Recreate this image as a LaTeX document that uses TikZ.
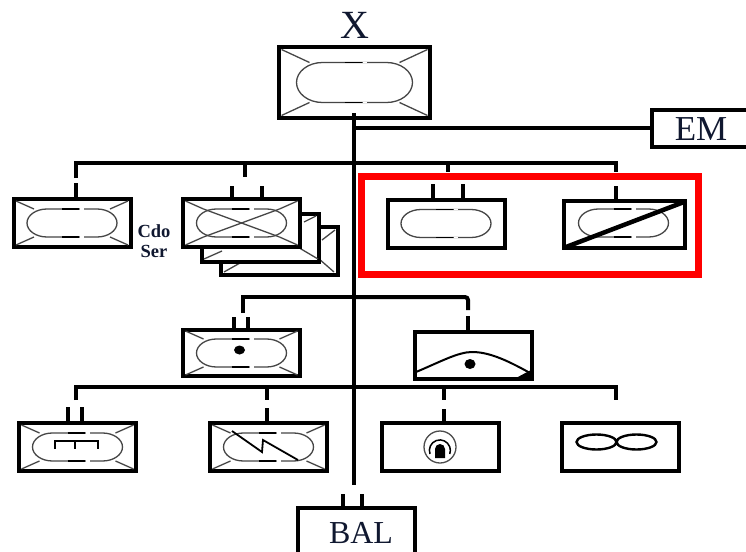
\documentclass[tikz,border=0pt]{standalone}
\usepackage{fontspec}
\setmainfont{Liberation Serif}
\usepackage{tikz}
\definecolor{inkblue}{HTML}{101830}
\definecolor{inkred}{HTML}{FF0000}
\tikzset{
  cell/.style={draw,line width=4pt,fill=white,minimum width=117pt,minimum height=48pt,inner sep=0pt},
  wire/.style={line width=4pt},
  thin line/.style={line width=1.3pt,gray!55!black},
  tag/.style={inner sep=0pt,text=inkblue,font=\fontsize{35}{35}\selectfont},
  small tag/.style={inner sep=0pt,text=inkblue,font=\fontsize{18.5}{19}\selectfont\bfseries},
}
% pill outline, centred on a cell (cell, half width, half height, end radius)
\newcommand{\pill}[4]{
  \draw[thin line] ([shift={(#2-#4,-#3)}]#1.center) arc[start angle=90,end angle=-90,x radius=#4pt,y radius=#3pt]
    -- ([shift={(-#2+#4,#3)}]#1.center) arc[start angle=270,end angle=90,x radius=#4pt,y radius=#3pt] -- cycle;
  \draw[line width=1.5pt,white] ([shift={(8,-#3)}]#1.center) -- ++(4,0) ([shift={(8,#3)}]#1.center) -- ++(4,0);
  \draw[line width=1.4pt] ([shift={(-10,-#3)}]#1.center) -- ++(17,0) ([shift={(-10,#3)}]#1.center) -- ++(17,0);
}
% corner strokes, from the cell corners to the pill
\newcommand{\spokes}[5]{
  \foreach \sx in {-1,1} \foreach \sy in {-1,1}
    \draw[thin line] ([shift={(\sx*#2,\sy*#3)}]#1.center) -- ([shift={(\sx*#4,\sy*#5)}]#1.center);
}

\begin{document}
\begin{tikzpicture}[x=1pt,y=-1pt]
\useasboundingbox (0,0) rectangle (746,551);
\fill[white] (0,0) rectangle (746,551);

\node[inner sep=0pt,font=\fontsize{40}{40}\selectfont,text=inkblue] (xlabel) at (355,25) {X};
\node[cell,minimum width=151pt,minimum height=71pt] (xbox) at (354.5,82.5) {};
\node[cell,minimum width=120pt,minimum height=37pt] (embox) at (712,128.5) {};
\node[tag] (emlabel) at (701,129) {EM};
\node[cell,minimum height=60pt] (balbox) at (356,538) {};
\node[tag,font=\fontsize{32}{32}\selectfont] (ballabel) at (361,533) {BAL};

% first row
\node[cell] (cdobox) at (72,223) {};
\node[cell] (shadowb) at (279,250.5) {};
\draw[thin line] (224,272) -- (240,263) (335,230) -- (322,240);
\draw[thin line] (318,258) -- (334,272);
\node[cell] (shadowa) at (260,237.5) {};
\draw[thin line] (204,259) -- (222,251) (316,216) -- (304,222);
\draw[thin line] (296,246) -- (318,259);
\node[cell] (crossbox) at (241.5,223) {};
\node[cell] (openbox) at (446,223.5) {};
\node[cell,minimum width=121pt,minimum height=47pt] (slashbox) at (624.5,224.5) {};
\node[small tag] (cdolabel) at (154,231) {Cdo};
\node[small tag] (serlabel) at (154,251) {Ser};

% second row
\node[cell,minimum height=46pt] (dotbox) at (241.5,353) {};
\node[cell,minimum height=47pt] (archbox) at (473,355.5) {};

% third row
\node[cell] (gatebox) at (77.5,447) {};
\node[cell] (zigbox) at (268.5,447) {};
\node[cell] (ringbox) at (440,447) {};
\node[cell] (eightbox) at (620,447) {};

% buses
\coordinate (topend) at (354,113);
\coordinate (botend) at (354,485);
\coordinate (busa) at (354,163);
\coordinate (busb) at (354,297);
\coordinate (busc) at (354,387);
\coordinate (emtap) at (354,128);
\draw[wire] (topend) -- (botend);
\draw[wire] (emtap) -- (embox.west |- emtap);
\draw[wire] (76,178) |- (busa) -| (616,172);
\draw[wire] (245,163) -- (245,177);
\draw[wire] (448,163) -- (448,172);
\draw[wire] (243,313) |- (busb);
\draw[wire,rounded corners=3] (busb) -| (468,310);
\draw[wire] (76,400) |- (busc) -| (616,400);
\draw[wire] (267,387) -- (267,400);
\draw[wire] (444,387) -- (444,400);

% stubs above the cells
\draw[wire] (cdobox.north) ++(4,0) -- ++(0,-14);
\draw[wire] (slashbox.north) ++(-8.5,0) -- ++(0,-13);
\draw[wire] (archbox.north) ++(-5,0) -- ++(0,-14);
\draw[wire] (zigbox.north) ++(-1.5,0) -- ++(0,-13);
\draw[wire] (ringbox.north) ++(4,0) -- ++(0,-12);
\foreach \cellname/\offa/\offb/\stublen in {crossbox/-9.5/20.5/11,openbox/-13/17/14,dotbox/-7.5/6.5/11,gatebox/-9.5/4.5/14,balbox/-13/6/12}
  \draw[wire] (\cellname.north) ++(\offa,0) -- ++(0,-\stublen) (\cellname.north) ++(\offb,0) -- ++(0,-\stublen);

% pills and strokes
\spokes{xbox}{73}{33}{45}{20}
\pill{xbox}{58}{20}{26}
\spokes{cdobox}{56}{22}{38}{14}
\pill{cdobox}{45}{14}{20}
\foreach \cellname in {crossbox,dotbox,gatebox,zigbox} {
  \spokes{\cellname}{56}{22}{38}{14}
  \pill{\cellname}{45}{14}{20}
}
\draw[thin line] (crossbox.center) ++(-38,14) -- ++(76,-28) (crossbox.center) ++(-38,-14) -- ++(76,28);
\pill{openbox}{45}{14}{20}
\node[inner sep=0pt] (slashpill) at (623.5,223) {};
\pill{slashpill}{45}{14}{20}
\draw[line width=4.5pt] (566,247) -- (684,202);
\fill (dotbox.center) ++(-2,-3) circle (5.5pt and 4.5pt);

% arch cell
\draw[line width=2pt] (416,372) .. controls (440,362) and (458,352) .. (472,352) .. controls (488,352) and (505,359) .. (530,373);
\fill (516,378) -- (531,370) -- (531,378) -- cycle;
\fill (470,364) circle (5.5pt and 5pt);

% gate mark
\draw[line width=1.8pt] (55,449) |- (98,441) -- (98,449) (75,441) -- (75,449);
% zigzag mark
\draw[line width=1.8pt] (232,431) -- (262,452) -- (263,440) -- (298,460);
% ring mark
\draw[line width=1.3pt,gray!60!black] (440,447) circle (16pt);
\draw[line width=1.5pt] (430,454) arc (200:-20:10.5pt);
\fill (440,449) circle (5pt) (435,449) rectangle (445,458);
% figure of eight
\draw[line width=2.4pt] (596.5,442) ellipse (20pt and 7.5pt) (636.5,442) ellipse (20pt and 7.5pt);

% highlight
\draw[inkred,line width=7pt] (361.5,176.5) rectangle (698.5,274.5);
\end{tikzpicture}
\end{document}
